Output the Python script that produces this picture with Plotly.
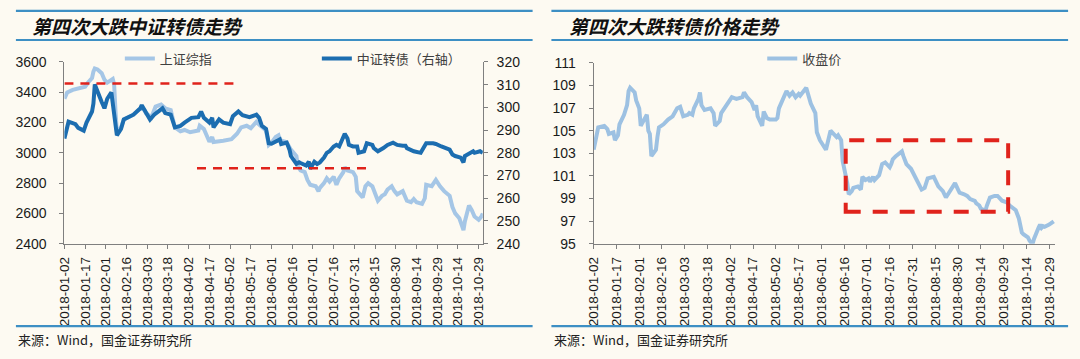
import plotly.graph_objects as go

# ---------------- data ----------------
tick_labels = ["2018-01-02", "2018-01-17", "2018-02-01", "2018-02-16", "2018-03-03", "2018-03-18",
               "2018-04-02", "2018-04-17", "2018-05-02", "2018-05-17", "2018-06-01", "2018-06-16",
               "2018-07-01", "2018-07-16", "2018-07-31", "2018-08-15", "2018-08-30", "2018-09-14",
               "2018-09-29", "2018-10-14", "2018-10-29"]

sh_dates = ["2018-01-02", "2018-01-04", "2018-01-08", "2018-01-11", "2018-01-15", "2018-01-17", "2018-01-19",
            "2018-01-22", "2018-01-23", "2018-01-24", "2018-01-26", "2018-01-29", "2018-01-31", "2018-02-02",
            "2018-02-06", "2018-02-07", "2018-02-08", "2018-02-09", "2018-02-12", "2018-02-14", "2018-02-21",
            "2018-02-26", "2018-03-01", "2018-03-02", "2018-03-06", "2018-03-09", "2018-03-13", "2018-03-16",
            "2018-03-20", "2018-03-23", "2018-03-27", "2018-03-30", "2018-04-03", "2018-04-09", "2018-04-10",
            "2018-04-13", "2018-04-17", "2018-04-19", "2018-04-20", "2018-04-24", "2018-04-27", "2018-05-03",
            "2018-05-07", "2018-05-10", "2018-05-14", "2018-05-17", "2018-05-21", "2018-05-24", "2018-05-28",
            "2018-05-30", "2018-06-01", "2018-06-04", "2018-06-06", "2018-06-07", "2018-06-11", "2018-06-13",
            "2018-06-15", "2018-06-19", "2018-06-20", "2018-06-22", "2018-06-25", "2018-06-27", "2018-06-29",
            "2018-07-03", "2018-07-05", "2018-07-06", "2018-07-09", "2018-07-11", "2018-07-13", "2018-07-16",
            "2018-07-18", "2018-07-20", "2018-07-23", "2018-07-24", "2018-07-26", "2018-07-30", "2018-08-01",
            "2018-08-02", "2018-08-06", "2018-08-08", "2018-08-10", "2018-08-13", "2018-08-15", "2018-08-17",
            "2018-08-20", "2018-08-22", "2018-08-24", "2018-08-27", "2018-08-29", "2018-08-31", "2018-09-04",
            "2018-09-06", "2018-09-07", "2018-09-10", "2018-09-12", "2018-09-14", "2018-09-18", "2018-09-20",
            "2018-09-21", "2018-09-25", "2018-09-28", "2018-10-01", "2018-10-04", "2018-10-08", "2018-10-10",
            "2018-10-12", "2018-10-15", "2018-10-17", "2018-10-18", "2018-10-19", "2018-10-22", "2018-10-24",
            "2018-10-26", "2018-10-29", "2018-10-31", "2018-11-01"]
sh_values = [3357, 3399, 3416, 3425, 3431, 3437, 3463,
             3494, 3536, 3557, 3551, 3526, 3483, 3463,
             3488, 3452, 3273, 3136, 3168, 3220, 3252,
             3294, 3283, 3262, 3235, 3305, 3319, 3294,
             3283, 3168, 3143, 3151, 3136, 3147, 3179,
             3157, 3073, 3105, 3071, 3073, 3080, 3090,
             3126, 3168, 3179, 3163, 3204, 3179, 3147,
             3052, 3067, 3105, 3116, 3084, 3073, 3052,
             3021, 2979, 2916, 2884, 2873, 2821, 2789,
             2779, 2747, 2769, 2800, 2832, 2810, 2842,
             2789, 2832, 2873, 2905, 2884, 2873, 2842,
             2747, 2705, 2779, 2800, 2779, 2726, 2684,
             2716, 2726, 2758, 2779, 2747, 2726, 2747,
             2705, 2684, 2674, 2695, 2674, 2663, 2700,
             2789, 2780, 2821, 2779, 2747, 2716, 2642,
             2600, 2568, 2516, 2490, 2547, 2652, 2621,
             2579, 2558, 2579, 2600]

cb_dates = ["2018-01-02", "2018-01-04", "2018-01-05", "2018-01-10", "2018-01-12", "2018-01-16", "2018-01-18",
            "2018-01-22", "2018-01-23", "2018-01-24", "2018-01-26", "2018-01-29", "2018-01-31", "2018-02-02",
            "2018-02-05", "2018-02-07", "2018-02-09", "2018-02-12", "2018-02-14", "2018-02-21", "2018-02-26",
            "2018-02-27", "2018-03-02", "2018-03-05", "2018-03-08", "2018-03-12", "2018-03-14", "2018-03-16",
            "2018-03-20", "2018-03-23", "2018-03-27", "2018-03-30", "2018-04-02", "2018-04-04", "2018-04-09",
            "2018-04-11", "2018-04-13", "2018-04-17", "2018-04-19", "2018-04-20", "2018-04-24", "2018-04-27",
            "2018-05-02", "2018-05-04", "2018-05-08", "2018-05-11", "2018-05-16", "2018-05-21", "2018-05-23",
            "2018-05-25", "2018-05-28", "2018-05-30", "2018-06-01", "2018-06-04", "2018-06-07", "2018-06-08",
            "2018-06-12", "2018-06-14", "2018-06-15", "2018-06-19", "2018-06-21", "2018-06-22", "2018-06-26",
            "2018-06-28", "2018-06-29", "2018-07-02", "2018-07-04", "2018-07-06", "2018-07-09", "2018-07-11",
            "2018-07-13", "2018-07-16", "2018-07-18", "2018-07-20", "2018-07-23", "2018-07-24", "2018-07-26",
            "2018-07-27", "2018-07-30", "2018-08-02", "2018-08-03", "2018-08-07", "2018-08-09", "2018-08-13",
            "2018-08-14", "2018-08-17", "2018-08-21", "2018-08-24", "2018-08-28", "2018-08-31", "2018-09-04",
            "2018-09-06", "2018-09-07", "2018-09-12", "2018-09-17", "2018-09-20", "2018-09-21", "2018-09-26",
            "2018-09-28", "2018-10-02", "2018-10-08", "2018-10-10", "2018-10-12", "2018-10-16", "2018-10-18",
            "2018-10-19", "2018-10-23", "2018-10-25", "2018-10-26", "2018-10-30", "2018-11-01"]
cb_values = [286.3, 291.2, 293.7, 292.6, 291.0, 289.8, 293.3,
             298.2, 301.7, 310.1, 306.6, 302.4, 299.6, 303.8,
             306.6, 298.2, 287.7, 290.5, 294.7, 296.8, 299.6,
             301.0, 297.5, 294.7, 296.8, 298.9, 299.6, 297.5,
             296.8, 291.2, 291.9, 293.3, 294.7, 295.4, 295.7,
             298.2, 295.4, 293.3, 295.4, 291.2, 294.7, 293.3,
             292.6, 296.1, 298.2, 296.6, 295.7, 296.8, 295.4,
             291.9, 290.5, 284.2, 284.0, 284.9, 285.9, 283.9,
             284.5, 281.4, 278.6, 275.1, 275.8, 275.5, 274.4,
             276.1, 273.0, 276.1, 275.1, 275.8, 277.9, 280.0,
             280.7, 282.8, 283.5, 282.8, 287.7, 288.4, 286.3,
             283.5, 282.8, 282.8, 280.0, 280.7, 284.2, 283.5,
             282.1, 280.7, 282.1, 283.5, 284.5, 283.5, 283.1,
             283.1, 282.1, 280.7, 280.0, 282.8, 284.2, 284.2,
             283.9, 282.8, 281.4, 279.3, 278.6, 277.9, 275.8,
             278.6, 280.0, 280.7, 280.0, 280.7, 280.0]

px_dates = ["2018-01-02", "2018-01-04", "2018-01-05", "2018-01-09", "2018-01-11", "2018-01-12", "2018-01-15",
            "2018-01-16", "2018-01-18", "2018-01-19", "2018-01-22", "2018-01-24", "2018-01-25", "2018-01-26",
            "2018-01-29", "2018-01-30", "2018-02-01", "2018-02-02", "2018-02-05", "2018-02-06", "2018-02-07",
            "2018-02-08", "2018-02-09", "2018-02-12", "2018-02-13", "2018-02-14", "2018-02-17", "2018-02-20",
            "2018-02-23", "2018-02-26", "2018-02-28", "2018-03-02", "2018-03-05", "2018-03-06", "2018-03-08",
            "2018-03-09", "2018-03-12", "2018-03-13", "2018-03-14", "2018-03-16", "2018-03-20", "2018-03-22",
            "2018-03-23", "2018-03-26", "2018-03-27", "2018-03-29", "2018-04-02", "2018-04-03", "2018-04-06",
            "2018-04-10", "2018-04-11", "2018-04-13", "2018-04-16", "2018-04-18", "2018-04-19", "2018-04-20",
            "2018-04-23", "2018-04-24", "2018-04-26", "2018-04-28", "2018-05-02", "2018-05-03", "2018-05-04",
            "2018-05-07", "2018-05-09", "2018-05-11", "2018-05-13", "2018-05-15", "2018-05-17", "2018-05-18",
            "2018-05-22", "2018-05-25", "2018-05-28", "2018-05-29", "2018-05-31", "2018-06-04", "2018-06-07",
            "2018-06-11", "2018-06-12", "2018-06-14", "2018-06-15", "2018-06-18", "2018-06-19", "2018-06-21",
            "2018-06-22", "2018-06-25", "2018-06-27", "2018-06-28", "2018-06-30", "2018-07-02", "2018-07-03",
            "2018-07-05", "2018-07-06", "2018-07-09", "2018-07-10", "2018-07-11", "2018-07-13", "2018-07-16",
            "2018-07-17", "2018-07-18", "2018-07-20", "2018-07-23", "2018-07-24", "2018-07-25", "2018-07-26",
            "2018-07-27", "2018-07-30", "2018-08-01", "2018-08-03", "2018-08-06", "2018-08-08", "2018-08-09",
            "2018-08-10", "2018-08-14", "2018-08-15", "2018-08-17", "2018-08-20", "2018-08-21", "2018-08-22",
            "2018-08-24", "2018-08-27", "2018-08-28", "2018-08-30", "2018-08-31", "2018-09-03", "2018-09-05",
            "2018-09-07", "2018-09-10", "2018-09-11", "2018-09-13", "2018-09-14", "2018-09-17", "2018-09-18",
            "2018-09-20", "2018-09-23", "2018-09-25", "2018-09-27", "2018-09-28", "2018-10-01", "2018-10-03",
            "2018-10-07", "2018-10-09", "2018-10-11", "2018-10-12", "2018-10-15", "2018-10-16", "2018-10-18",
            "2018-10-19", "2018-10-22", "2018-10-23", "2018-10-24", "2018-10-25", "2018-10-26", "2018-10-29",
            "2018-11-01"]
px_values = [103.32, 104.44, 105.29, 105.43, 105.14, 104.72, 104.86,
             104.16, 104.59, 105.57, 106.41, 107.26, 108.52, 108.81,
             108.39, 107.68, 106.98, 105.43, 106.13, 106.41, 105.01,
             104.72, 102.75, 103.32, 104.44, 105.29, 105.57, 105.99,
             106.28, 106.98, 107.12, 106.28, 106.41, 106.56, 106.41,
             106.98, 107.82, 108.39, 107.26, 106.83, 106.98, 106.56,
             105.43, 105.85, 106.56, 106.98, 107.68, 107.97, 107.82,
             107.97, 108.39, 107.97, 107.54, 106.83, 107.26, 106.28,
             105.43, 106.70, 106.13, 105.99, 105.99, 106.13, 106.98,
             107.97, 108.52, 108.10, 108.39, 107.97, 108.25, 108.10,
             108.81, 107.40, 106.56, 104.86, 104.16, 103.32, 105.00,
             104.44, 104.59, 104.16, 102.33, 100.36, 99.37, 99.65,
             99.94, 100.07, 99.79, 100.92, 100.64, 100.78, 100.49,
             100.92, 100.64, 101.06, 101.48, 102.05, 102.19, 101.76,
             102.05, 102.47, 102.75, 103.03, 103.17, 102.75, 102.33,
             102.05, 101.63, 101.06, 100.49, 99.79, 99.94, 100.36,
             100.78, 100.92, 100.64, 100.07, 99.65, 99.23, 99.09,
             99.51, 100.07, 100.36, 99.79, 99.51, 99.37, 99.23,
             98.95, 98.80, 98.58, 98.38, 98.10, 97.91, 98.38,
             99.09, 99.23, 99.23, 98.95, 98.80, 98.67, 98.38,
             97.96, 97.26, 95.99, 95.85, 95.57, 95.28, 94.95,
             95.42, 96.41, 96.69, 96.41, 96.56, 96.50, 96.69,
             96.98]

# red dashed reference marks
left_high_level = 3458
left_high_dates = ["2018-01-02", "2018-05-07"]
left_low_level = 2898
left_low_dates = ["2018-04-08", "2018-08-12"]
box_dates = ["2018-06-17", "2018-10-02"]
box_levels = [97.82, 104.16]

titles = ["第四次大跌中证转债走势", "第四次大跌转债价格走势"]
source_text = "来源：Wind，国金证券研究所"

# ---------------- style ----------------
W, H = 1080, 359
BG = "#fdfaf2"
DARK = "#1c6db0"
LIGHT = "#a5c6e6"
LIGHT2 = "#9dc1e2"
RED = "#e0231c"
RULE = "#3d8fc4"
AXIS = "#7f7f7f"
TICKFONT = dict(family="Arial, Liberation Sans", size=14, color="#1a1a1a")
XTICKFONT = dict(family="Arial, Liberation Sans", size=13.5, color="#1a1a1a")
CJK = "Noto Sans CJK SC"


def px_x(p):
    return p / W


def px_y(p):
    return 1 - p / H


fig = go.Figure()
fig.add_trace(go.Scatter(x=sh_dates, y=sh_values, name="上证综指", mode="lines",
                         line=dict(color=LIGHT, width=4), xaxis="x", yaxis="y"))
fig.add_trace(go.Scatter(x=cb_dates, y=cb_values, name="中证转债（右轴）", mode="lines",
                         line=dict(color=DARK, width=4), xaxis="x", yaxis="y2"))
fig.add_trace(go.Scatter(x=px_dates, y=px_values, name="收盘价", mode="lines",
                         line=dict(color=LIGHT2, width=4), xaxis="x2", yaxis="y3", legend="legend2"))

common_x = dict(type="date", tickvals=tick_labels, ticktext=tick_labels, tickangle=-90,
                ticks="outside", ticklen=4, tickcolor=AXIS, showline=True, linecolor=AXIS,
                linewidth=1, showgrid=False, zeroline=False, tickfont=XTICKFONT,
                ticklabelstandoff=3)
common_y = dict(ticks="outside", ticklen=4, tickcolor=AXIS, showline=True, linecolor=AXIS,
                linewidth=1, showgrid=False, zeroline=False, tickfont=TICKFONT)

plot_y_domain = [px_y(246.7), px_y(56.5)]

fig.update_layout(
    width=W, height=H, autosize=False,
    margin=dict(l=0, r=0, t=0, b=0),
    paper_bgcolor=BG, plot_bgcolor=BG,
    showlegend=True,
    xaxis=dict(common_x, domain=[px_x(57), px_x(479.7)], range=["2018-01-02", "2018-11-01"], anchor="y"),
    yaxis=dict(common_y, domain=plot_y_domain, range=[2400, 3600], dtick=200, tick0=2400,
               anchor="x", ticklabelstandoff=10),
    yaxis2=dict(common_y, overlaying="y", side="right", anchor="x", range=[240, 320], dtick=10,
                tick0=240, ticklabelstandoff=6),
    xaxis2=dict(common_x, domain=[px_x(591.7), px_x(1058)], range=["2018-01-02", "2018-11-02"], anchor="y3"),
    yaxis3=dict(common_y, domain=[px_y(246.7), px_y(57.5)], range=[95, 111], dtick=2, tick0=95,
                anchor="x2", ticklabelstandoff=10),
    legend=dict(orientation="h", x=px_x(113), y=px_y(53), xanchor="left", yanchor="middle",
                font=dict(family=CJK, size=13, color="#404040"), bgcolor="rgba(0,0,0,0)",
                entrywidth=152, entrywidthmode="pixels", traceorder="normal"),
    legend2=dict(orientation="h", x=px_x(762), y=px_y(53), xanchor="left", yanchor="middle",
                 font=dict(family=CJK, size=13, color="#404040"), bgcolor="rgba(0,0,0,0)"),
)

shapes = []
# horizontal rules
for x0, x1 in [(8, 530), (549, 1071)]:
    for yy in (3, 33.5, 333):
        shapes.append(dict(type="line", xref="paper", yref="paper", x0=px_x(x0), x1=px_x(x1),
                           y0=px_y(yy), y1=px_y(yy), line=dict(color=RULE, width=2.2)))
# red dashed references
shapes.append(dict(type="line", xref="x", yref="y", x0=left_high_dates[0], x1=left_high_dates[1],
                   y0=left_high_level, y1=left_high_level, layer="above",
                   line=dict(color=RED, width=2.5, dash="9px,7px")))
shapes.append(dict(type="line", xref="x", yref="y", x0=left_low_dates[0], x1=left_low_dates[1],
                   y0=left_low_level, y1=left_low_level, layer="above",
                   line=dict(color=RED, width=2.5, dash="9px,7px")))
shapes.append(dict(type="rect", xref="x2", yref="y3", x0=box_dates[0], x1=box_dates[1],
                   y0=box_levels[0], y1=box_levels[1], layer="above",
                   line=dict(color=RED, width=4, dash="15px,12px")))
fig.update_layout(shapes=shapes)

annotations = []
for title, x in zip(titles, (22, 565)):
    annotations.append(dict(text=title, xref="paper", yref="paper", x=px_x(x), y=px_y(18),
                            xanchor="left", yanchor="middle", showarrow=False,
                            font=dict(family=CJK, size=19, color="#111111", weight="bold", style="italic")))
for x in (8, 550):
    annotations.append(dict(text=source_text, xref="paper", yref="paper", x=px_x(x), y=px_y(347),
                            xanchor="left", yanchor="middle", showarrow=False,
                            font=dict(family=CJK, size=13, color="#222222")))
fig.update_layout(annotations=annotations)

fig.write_html("out.html", config={"displayModeBar": False},
               post_script="document.body.style.margin='0';document.body.style.overflow='hidden';")
